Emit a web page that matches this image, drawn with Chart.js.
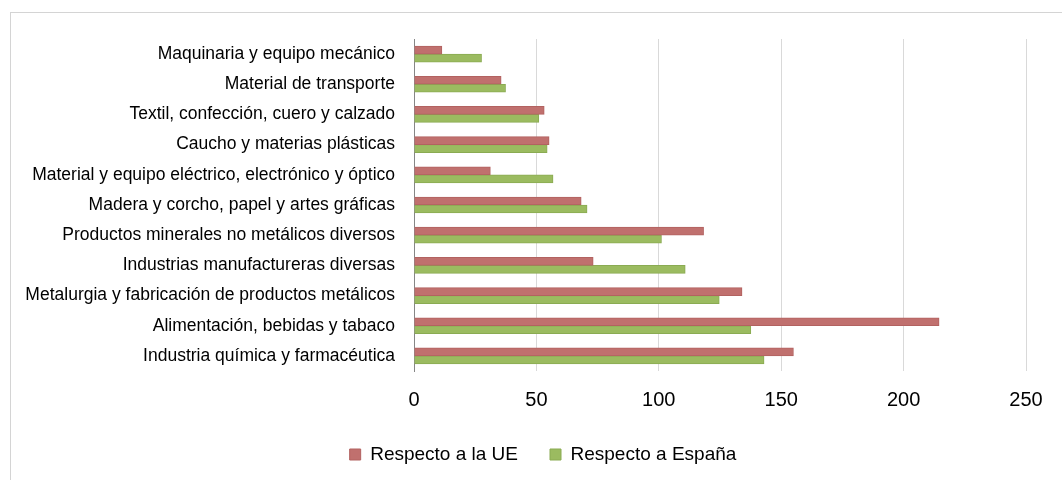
<!DOCTYPE html>
<html>
<head>
<meta charset="utf-8">
<script src="https://cdn.jsdelivr.net/npm/chart.js@4/dist/chart.umd.min.js"></script>
<style>
  html, body { margin: 0; padding: 0; background: #fff; }
  #wrap { position: relative; width: 1062px; height: 480px; overflow: hidden; }
  #frame { position: absolute; left: 10px; top: 12px; width: 1070px; height: 480px; border: 1px solid #d4d4d4; }
  #chart { position: absolute; left: 0; top: 0; }
</style>
</head>
<body>
<div id="wrap">
  <div id="frame"></div>
  <canvas id="chart" width="1062" height="480"></canvas>
</div>
<script>
// Sectors, top to bottom as in the picture
const categories = [
    'Maquinaria y equipo mecánico',
    'Material de transporte',
    'Textil, confección, cuero y calzado',
    'Caucho y materias plásticas',
    'Material y equipo eléctrico, electrónico y óptico',
    'Madera y corcho, papel y artes gráficas',
    'Productos minerales no metálicos diversos',
    'Industrias manufactureras diversas',
    'Metalurgia y fabricación de productos metálicos',
    'Alimentación, bebidas y tabaco',
    'Industria química y farmacéutica'
];
const respectoUE = [11.4, 35.6, 53.2, 55.2, 31.2, 68.3, 118.3, 73.2, 134.0, 214.5, 155.0];
const respectoEspana = [27.6, 37.4, 51.0, 54.4, 56.8, 70.7, 101.1, 110.8, 124.7, 137.6, 143.0];
const xTicks = [0, 50, 100, 150, 200, 250];

// legend sits a bit right of the canvas centre in the original
const legendShift = {
    id: 'legendShift',
    afterLayout(chart) {
        chart.legend.left += 30;
        chart.legend.right += 30;
    }
};

const ctx = document.getElementById('chart').getContext('2d');
new Chart(ctx, {
    type: 'bar',
    data: {
        labels: categories,
        datasets: [
            {
                label: 'Respecto a la UE',
                data: respectoUE,
                backgroundColor: '#c0706e',
                borderColor: '#b26260',
                borderWidth: 1,
                barThickness: 8
            },
            {
                label: 'Respecto a España',
                data: respectoEspana,
                backgroundColor: '#9bbb60',
                borderColor: '#8aab52',
                borderWidth: 1,
                barThickness: 8
            }
        ]
    },
    options: {
        indexAxis: 'y',
        responsive: false,
        animation: false,
        layout: { padding: { top: 39, right: 36, left: 0, bottom: 6 } },
        plugins: {
            tooltip: { enabled: false },
            legend: {
                position: 'bottom',
                labels: {
                    boxWidth: 11,
                    boxHeight: 11,
                    padding: 32,
                    color: '#000',
                    font: { family: 'Liberation Sans, Arial, sans-serif', size: 19 }
                }
            }
        },
        scales: {
            x: {
                min: 0,
                max: 250,
                afterBuildTicks: scale => { scale.ticks = xTicks.map(v => ({ value: v })); },
                afterFit: scale => { scale.height = 42; },
                grid: { color: '#d9d9d9', drawTicks: false },
                border: { display: false },
                ticks: {
                    padding: 17,
                    color: '#000',
                    font: { family: 'Liberation Sans, Arial, sans-serif', size: 20 }
                }
            },
            y: {
                afterFit: scale => { scale.width = 414; },
                grid: { display: false, drawTicks: false },
                border: { display: true, color: '#868686', width: 1 },
                ticks: {
                    padding: 19,
                    color: '#000',
                    font: { family: 'Liberation Sans, Arial, sans-serif', size: 17.5 }
                }
            }
        }
    },
    plugins: [legendShift]
});
</script>
</body>
</html>
